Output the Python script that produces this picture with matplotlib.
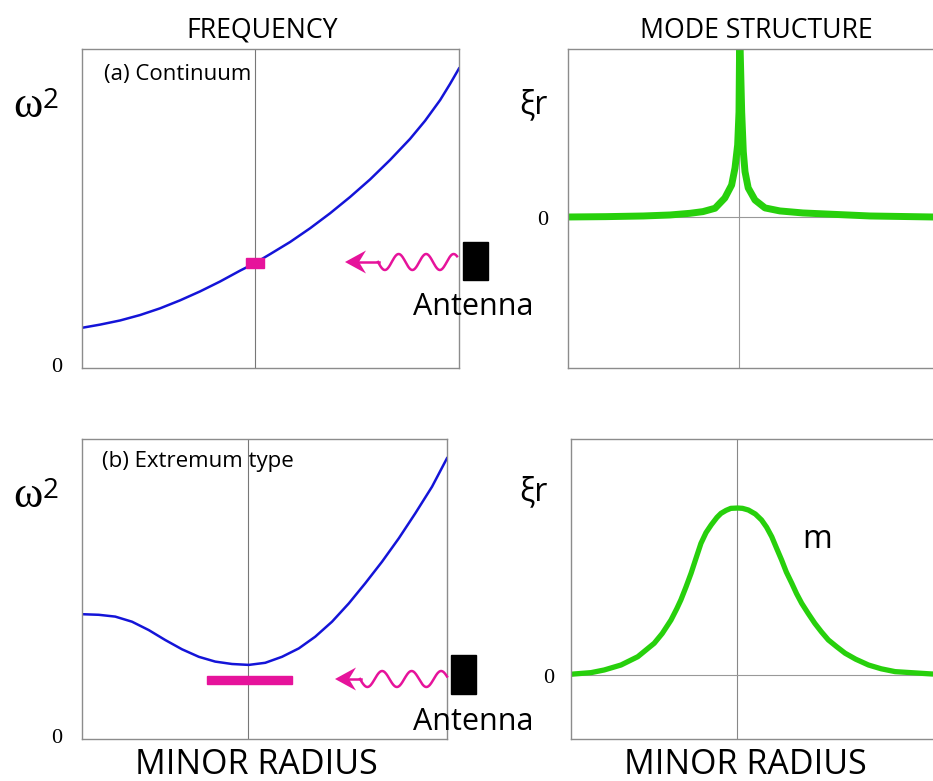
import numpy as np
import matplotlib.pyplot as plt
from matplotlib.patches import Rectangle, Polygon

SANS = ['Open Sans', 'DejaVu Sans']
SERIF = ['Liberation Serif', 'DejaVu Serif']

# (a) continuum: omega^2 against minor radius
r_cont = [0.0, 0.048, 0.101, 0.154, 0.207, 0.260, 0.313, 0.366, 0.419, 0.459, 0.499,
          0.552, 0.605, 0.658, 0.711, 0.764, 0.817, 0.870, 0.910, 0.950, 0.976, 1.0]
w2_cont = [0.126, 0.136, 0.149, 0.166, 0.187, 0.212, 0.240, 0.271, 0.305, 0.329, 0.357,
           0.395, 0.438, 0.485, 0.536, 0.591, 0.652, 0.718, 0.775, 0.840, 0.890, 0.939]
r_res_a = 0.459

# (a) mode structure: sharp resonance at the continuum crossing
r_xi_a = [0.0, 0.1, 0.2, 0.271, 0.324, 0.358, 0.390, 0.416, 0.434, 0.443, 0.450, 0.4536, 0.4555,
          0.4607, 0.465, 0.4695, 0.478, 0.496, 0.5225, 0.562, 0.623, 0.801, 0.968, 1.0]
xi_a = [0.0, 0.002, 0.006, 0.012, 0.022, 0.032, 0.052, 0.113, 0.190, 0.292, 0.429, 0.625, 1.1,
        0.625, 0.389, 0.270, 0.173, 0.101, 0.054, 0.036, 0.024, 0.006, 0.0, 0.0]

# (b) extremum type
r_ext = [0.0, 0.046, 0.091, 0.137, 0.183, 0.228, 0.274, 0.320, 0.365, 0.411, 0.457, 0.502,
         0.548, 0.594, 0.639, 0.685, 0.731, 0.776, 0.822, 0.868, 0.913, 0.959, 1.0]
w2_ext = [0.416, 0.414, 0.408, 0.391, 0.363, 0.330, 0.299, 0.274, 0.258, 0.250, 0.247, 0.254,
          0.274, 0.302, 0.341, 0.391, 0.452, 0.519, 0.591, 0.669, 0.752, 0.841, 0.936]
r_res_b = 0.455
band_b = (0.342, 0.575, 0.197)   # r from, r to, omega^2

# (b) global mode
r_xi_b = [0.0, 0.009, 0.055, 0.091, 0.137, 0.183, 0.228, 0.250, 0.274, 0.290, 0.301, 0.315,
          0.329, 0.342, 0.356, 0.370, 0.384, 0.400, 0.411, 0.425, 0.438, 0.457, 0.470,
          0.486, 0.505, 0.522, 0.536, 0.550, 0.563, 0.577, 0.590, 0.605, 0.618, 0.632,
          0.650, 0.668, 0.686, 0.705, 0.728, 0.751, 0.780, 0.815, 0.850, 0.888, 0.988, 1.0]
xi_b = [0.004, 0.006, 0.014, 0.030, 0.060, 0.110, 0.191, 0.250, 0.331, 0.400, 0.452, 0.530,
        0.613, 0.700, 0.793, 0.858, 0.904, 0.950, 0.974, 0.992, 1.004, 1.006, 1.004,
        0.994, 0.970, 0.934, 0.890, 0.833, 0.765, 0.693, 0.620, 0.552, 0.490, 0.432,
        0.370, 0.311, 0.260, 0.211, 0.170, 0.131, 0.095, 0.060, 0.037, 0.020, 0.006, 0.005]

BLUE = '#1414d8'
GREEN = '#27d00c'
PINK = '#e6139b'
GRID = '#8c8c8c'

W, H = 933, 781
fig = plt.figure(figsize=(W / 100, H / 100), dpi=100)


def box(left, top, right, bottom):
    return [left / W, 1 - bottom / H, (right - left) / W, (bottom - top) / H]


def frame(ax, ylim):
    ax.set_xlim(0, 1)
    ax.set_ylim(*ylim)
    ax.set_xticks([])
    ax.set_yticks([])
    for s in ax.spines.values():
        s.set_color(GRID)
        s.set_linewidth(1.0)


ax_a = fig.add_axes(box(82, 49, 459, 368))
ax_ar = fig.add_axes(box(568, 49, 945, 368))
ax_b = fig.add_axes(box(82, 439, 447, 739))
ax_br = fig.add_axes(box(571, 439, 936, 739))

frame(ax_a, (0, 1))
ax_a.axvline(r_res_a, color='#777777', lw=0.8)
ax_a.plot(r_cont, w2_cont, color=BLUE, lw=1.8)
ax_a.add_patch(Rectangle((r_res_a - 0.025, np.interp(r_res_a, r_cont, w2_cont) - 0.017), 0.05, 0.034,
                         color=PINK, zorder=5))

frame(ax_ar, (-0.899, 1.0))
ax_ar.axvline(0.4536, color='#999999', lw=0.8)
ax_ar.axhline(0, color='#999999', lw=0.8)
ax_ar.plot(r_xi_a, xi_a, color=GREEN, lw=5, solid_joinstyle='round')

frame(ax_b, (0, 1))
ax_b.axvline(r_res_b, color='#777777', lw=0.8)
ax_b.plot(r_ext, w2_ext, color=BLUE, lw=1.8)
ax_b.add_patch(Rectangle((band_b[0], band_b[2] - 0.0135), band_b[1] - band_b[0], 0.027,
                         color=PINK, zorder=5))

frame(ax_br, (-0.386, 1.422))
ax_br.axvline(0.455, color='#888888', lw=0.8)
ax_br.axhline(0, color='#999999', lw=0.8)
ax_br.plot(r_xi_b, xi_b, color=GREEN, lw=3.8, solid_joinstyle='round')

# overlay in pixel units for labels and the antenna sketches
ov = fig.add_axes([0, 0, 1, 1], zorder=10)
ov.set_xlim(0, W)
ov.set_ylim(H, 0)
ov.axis('off')


def antenna(tip_x, y, wave_from, wave_to, period, box_x, box_top, box_bot, label_y):
    xs = np.linspace(wave_from, wave_to, 200)
    ov.plot(xs, y + 8 * np.sin(2 * np.pi * (xs - wave_from) / period), color=PINK, lw=1.8)
    ov.plot([tip_x + 12, wave_from + 1], [y, y], color=PINK, lw=1.8)
    # stealth-style arrow head
    ov.add_patch(Polygon([(tip_x, y), (tip_x + 21, y - 11.5), (tip_x + 14, y), (tip_x + 21, y + 11.5)],
                         closed=True, color=PINK, lw=0))
    ov.add_patch(Rectangle((box_x, box_top), 25, box_bot - box_top, color='black'))
    ov.text(413, label_y, 'Antenna', family=SANS, fontsize=22, ha='left', va='baseline')


antenna(345, 262, 378, 457, 27.5, 463, 242, 280, 315)
antenna(335, 679, 360, 447, 29.5, 451, 655, 694, 730)

ov.text(262, 38, 'FREQUENCY', family=SANS, fontsize=19.2, ha='center', va='baseline')
ov.text(756, 38, 'MODE STRUCTURE', family=SANS, fontsize=19.2, ha='center', va='baseline')
ov.text(256, 774, 'MINOR RADIUS', family=SANS, fontsize=24.5, ha='center', va='baseline')
ov.text(745, 774, 'MINOR RADIUS', family=SANS, fontsize=24.5, ha='center', va='baseline')

ov.text(104, 80, '(a) Continuum', family=SANS, fontsize=16, ha='left', va='baseline')
ov.text(102, 467, '(b) Extremum type', family=SANS, fontsize=16, ha='left', va='baseline')
ov.text(802, 548, 'm', family=SANS, fontsize=23, ha='left', va='baseline')

for base in (117, 507):
    ov.text(13, base, '\u03c9', family=SERIF, fontsize=32, ha='left', va='baseline')
    ov.text(43, base - 9, '2', family=SANS, fontsize=20, ha='left', va='baseline')

for base in (113, 500):
    ov.text(519, base, '\u03ber', family=SANS, fontsize=23, ha='left', va='baseline')

for x, base in ((57, 372), (543, 225), (57, 743), (549, 683)):
    ov.text(x, base, '0', family=SERIF, fontsize=16, ha='center', va='baseline')

fig.savefig('out.png', dpi=100)
